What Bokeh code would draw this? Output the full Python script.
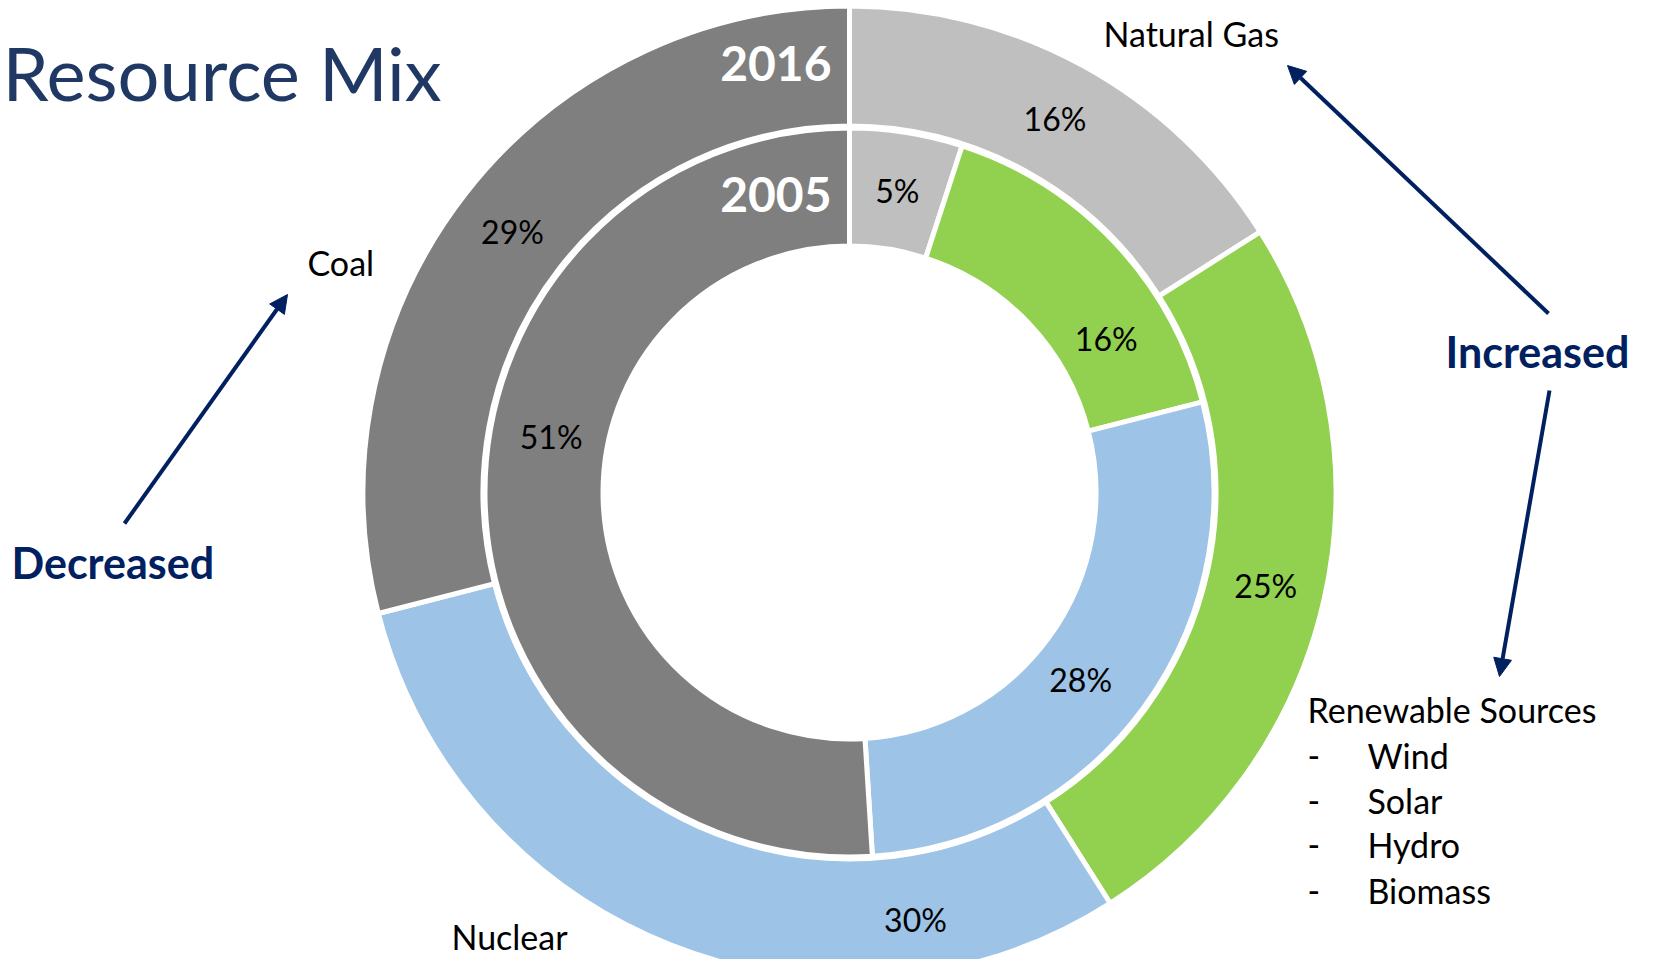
import math
from bokeh.plotting import figure
from bokeh.models import Range1d, ColumnDataSource, Arrow, NormalHead
from bokeh.core.properties import value
from bokeh.embed import file_html
from bokeh.resources import INLINE

# ---------------- data ----------------
categories = ["Natural Gas", "Renewable Sources", "Nuclear", "Coal"]
share_2005 = [5, 16, 28, 51]
share_2016 = [16, 25, 30, 29]
years = ["2005", "2016"]
colors = ["#BFBFBF", "#92D050", "#9DC3E6", "#7F7F7F"]
renewables = ["Wind", "Solar", "Hydro", "Biomass"]

# ---------------- layout (screen px, origin top-left) ----------------
W, H = 1637, 959


def Y(sy):
    return H - sy


CX, CY = 849, 492
STROKE = 5
rings = {  # visible radii (inner, outer)
    "2005": (249, 362),
    "2016": (369, 484),
}
# manual label nudges (screen px), as in the original slide
label_nudge = {
    ("2005", "Coal"): (7, -66),
    ("2005", "Renewable Sources"): (34, 55),
    ("2005", "Nuclear"): (-16, 7),
    ("2016", "Nuclear"): (223, 30),
}

p = figure(width=W, height=H, x_range=Range1d(0, W), y_range=Range1d(0, H),
           output_backend="svg", toolbar_location=None, min_border=0,
           x_axis_type=None, y_axis_type=None, outline_line_color=None,
           background_fill_color="white", border_fill_color="white")
p.grid.visible = False

FONT = value("Lato")
NAVY = "#002060"
TITLE = "#203864"

lab_x, lab_y, lab_t = [], [], []
for yr, shares in zip(years, [share_2005, share_2016]):
    r_in, r_out = rings[yr]
    total = float(sum(shares))
    cum = 0.0
    xs, ys, sa, ea, cols = [], [], [], [], []
    for cat, s, c in zip(categories, shares, colors):
        a0 = cum / total
        a1 = (cum + s) / total
        cum += s
        xs.append(CX)
        ys.append(Y(CY))
        sa.append(math.pi / 2 - 2 * math.pi * a0)
        ea.append(math.pi / 2 - 2 * math.pi * a1)
        cols.append(c)
        mid = 2 * math.pi * (a0 + a1) / 2
        rm = (r_in + r_out) / 2
        sx = CX + rm * math.sin(mid)
        sy = CY - rm * math.cos(mid)
        dx, dy = label_nudge.get((yr, cat), (0, 0))
        lab_x.append(sx + dx)
        lab_y.append(Y(sy + dy))
        lab_t.append(f"{s}%")
    src = ColumnDataSource(dict(x=xs, y=ys, sa=sa, ea=ea, c=cols))
    p.annular_wedge(x="x", y="y", inner_radius=r_in - STROKE / 2, outer_radius=r_out + STROKE / 2,
                    start_angle="sa", end_angle="ea", direction="clock", source=src,
                    fill_color="c", line_color="white", line_width=STROKE)

# percentage labels
p.text(x=lab_x, y=lab_y, text=lab_t, text_font=FONT, text_font_size=value("32px"),
       text_color="black", text_align="center", text_baseline="middle")

# year labels
p.text(x=[831, 831], y=[Y(63), Y(194)], text=["2016", "2005"], text_font=FONT,
       text_font_size=value("48px"), text_font_style="bold", text_color="white",
       text_align="right", text_baseline="middle")

# title
p.text(x=[2], y=[Y(72)], text=["Resource Mix"],
       text_font=FONT, text_font_size=value("74px"), text_color=TITLE,
       text_align="left", text_baseline="middle")

# category labels
p.text(x=[1103, 307, 451, 1307], y=[Y(33), Y(262), Y(936), Y(709)],
       text=["Natural Gas", "Coal", "Nuclear", "Renewable Sources"],
       text_font=FONT, text_font_size=value("34px"), text_color="black",
       text_align="left", text_baseline="middle")
rows = [755, 800, 844, 890]
p.text(x=[1307] * len(renewables), y=[Y(b) for b in rows], text=["-"] * len(renewables),
       text_font=FONT, text_font_size=value("34px"), text_color="black",
       text_align="left", text_baseline="middle")
p.text(x=[1367] * len(renewables), y=[Y(b) for b in rows], text=renewables,
       text_font=FONT, text_font_size=value("34px"), text_color="black",
       text_align="left", text_baseline="middle")

# change annotations
p.text(x=[1445, 11], y=[Y(351), Y(562)], text=["Increased", "Decreased"],
       text_font=FONT, text_font_size=value("43px"), text_font_style="bold",
       text_color=NAVY, text_align="left", text_baseline="middle")

arrows = [((124, 523), (287, 294)), ((1548, 313), (1287, 65)), ((1549, 390), (1499, 676))]
for (x0, y0), (x1, y1) in arrows:
    p.add_layout(Arrow(x_start=x0, y_start=Y(y0), x_end=x1, y_end=Y(y1),
                       line_color=NAVY, line_width=4,
                       end=NormalHead(size=18, fill_color=NAVY, line_color=NAVY, line_width=1)))

open("out.html", "w").write(file_html(p, INLINE))
